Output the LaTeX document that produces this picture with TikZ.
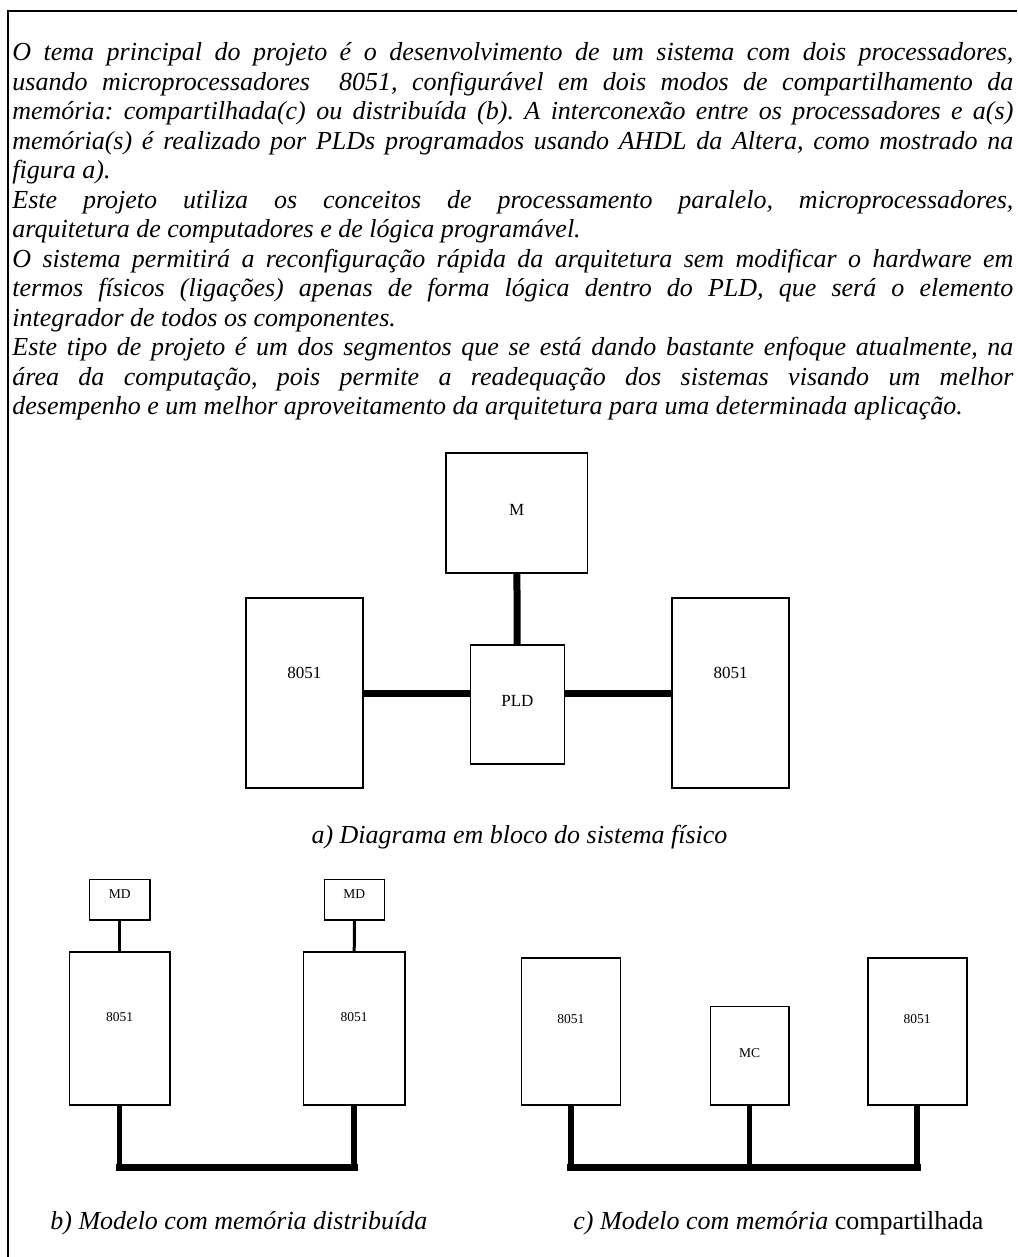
\documentclass[tikz,border=0pt]{standalone}
\usepackage{fontspec}
\setmainfont{Liberation Serif}
\usetikzlibrary{positioning}
\frenchspacing

\tikzset{
  blk/.style={draw, line width=0.8pt, inner sep=0pt},
  lbla/.style={inner sep=0pt, font=\fontsize{8.5}{10}\selectfont},
  lblb/.style={inner sep=0pt, font=\fontsize{6.75}{8}\selectfont},
  bus/.style={line width=3.5pt, line cap=rect},
  drop/.style={line width=2.8pt},
  link/.style={line width=1.5pt},
  capt/.style={inner sep=0pt, font=\fontsize{13}{14.75}\selectfont\itshape},
}

% box: name, x1, y1, x2, y2, label y, label, label style
\newcommand\blok[8]{%
  \node[blk, minimum width={(#4-#2)*0.5pt}, minimum height={(#5-#3)*0.5pt}] (#1) at ({(#2+#4)/2},{(#3+#5)/2}) {};
  \node[#8] (#1t) at ({(#2+#4)/2},#6) {#7};}

\begin{document}
\begin{tikzpicture}[x=0.5pt,y=-0.5pt]
  \useasboundingbox (0,0) rectangle (1017,1257);
  \draw[line width=1pt] (8,1257) -- (8,10.7) -- (1017,10.7);

  \node[anchor=base west, inner sep=0pt, text width=500.5pt, align=justify,
        font=\fontsize{13}{14.75}\selectfont\itshape\frenchspacing] (intro) at (12,61) {%
    O tema principal do projeto é o desenvolvimento de um sistema com dois processadores,\linebreak
    usando microprocessadores\ \ 8051, configurável em dois modos de compartilhamento da\linebreak
    memória: compartilhada(c) ou distribuída (b). A interconexão entre os processadores e a(s)\linebreak
    memória(s) é realizado por PLDs programados usando AHDL da Altera, como mostrado na\linebreak
    figura a).\par
    Este projeto utiliza os conceitos de processamento paralelo, microprocessadores,\linebreak
    arquitetura de computadores e de lógica programável.\par
    O sistema permitirá a reconfiguração rápida da arquitetura sem modificar o hardware em\linebreak
    termos físicos (ligações) apenas de forma lógica dentro do PLD, que será o elemento\linebreak
    integrador de todos os componentes.\par
    Este tipo de projeto é um dos segmentos que se está dando bastante enfoque atualmente, na\linebreak
    área da computação, pois permite a readequação dos sistemas visando um melhor\linebreak
    desempenho e um melhor aproveitamento da arquitetura para uma determinada aplicação.};

  % a) sistema fisico
  \blok{mem}{446}{453}{587.5}{573}{510}{M}{lbla}
  \blok{cpul}{245.7}{598}{362.9}{788}{673}{8051}{lbla}
  \blok{pld}{470.4}{645}{564.3}{764}{701}{PLD}{lbla}
  \blok{cpur}{672.1}{598}{788.9}{788}{673}{8051}{lbla}
  \draw[line width=3.5pt] (mem) -- (pld);
  \draw[line width=3.5pt] (cpul) -- (cpul -| pld.west);
  \draw[line width=3.5pt] (cpur) -- (cpur -| pld.east);
  \node[capt] (capa) at (519.5,837) {a) Diagrama em bloco do sistema físico};

  % b) memoria distribuida
  \blok{mdl}{89.3}{879.3}{150}{920}{894}{MD}{lblb}
  \blok{mdr}{324.3}{879.3}{384.3}{920}{894}{MD}{lblb}
  \blok{bcpul}{69.3}{952}{170}{1105}{1017}{8051}{lblb}
  \blok{bcpur}{303.3}{952}{405}{1105}{1017}{8051}{lblb}
  \draw[link] (mdl) -- (bcpul);
  \draw[link] (mdr) -- (bcpur);
  \coordinate (busy) at (0,1167);
  \foreach \n in {bcpul,bcpur} \draw[drop] (\n.south) -- (\n.south |- busy);
  \draw[bus] (bcpul.south |- busy) -- (bcpur.south |- busy);

  % c) memoria compartilhada
  \blok{ccpul}{521.3}{957.7}{620.3}{1105}{1019}{8051}{lblb}
  \blok{mc}{710.3}{1006.3}{788.7}{1105}{1053}{MC}{lblb}
  \blok{ccpur}{867.7}{957.7}{966.7}{1105}{1019}{8051}{lblb}
  \foreach \n in {ccpul,mc,ccpur} \draw[drop] (\n.south) -- (\n.south |- busy);
  \draw[bus] (ccpul.south |- busy) -- (ccpur.south |- busy);

  \node[capt, anchor=west] (capb) at (50,1223) {b) Modelo com memória distribuída};
  \node[capt, anchor=west] (capc) at (573,1223) {c) Modelo com memória \textup{compartilhada}};
\end{tikzpicture}
\end{document}
